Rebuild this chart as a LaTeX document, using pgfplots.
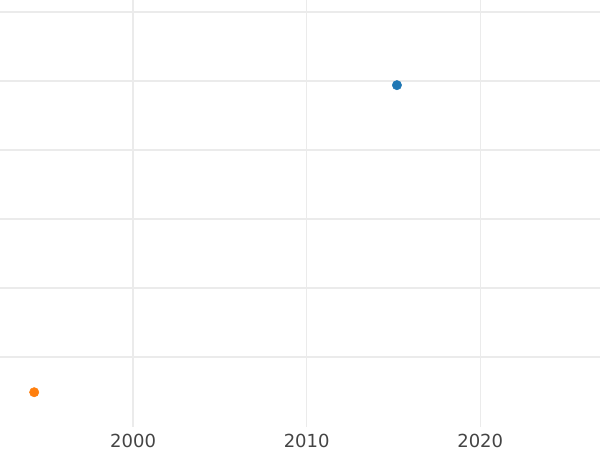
\documentclass[border=0pt]{standalone}
\usepackage{pgfplots}
\pgfplotsset{compat=1.18}
\usepackage{fontspec}
\setmainfont{DejaVu Sans}
\definecolor{gridgray}{HTML}{EBEBEB}
\definecolor{ticktext}{HTML}{444444}
\definecolor{ptblue}{HTML}{1F77B4}
\definecolor{ptorange}{HTML}{FF7F0E}
\begin{document}
\begin{tikzpicture}
\begin{axis}[
    scale only axis,
    width=450pt, height=320.25pt,
    xmin=1992.33, xmax=2026.9,
    ymin=-1.014, ymax=5.174,
    axis line style={draw=none},
    xtick={2000,2010,2020},
    ytick={0,1,2,3,4,5},
    yticklabels={},
    tick style={draw=none},
    xticklabel style={font=\fontsize{13.5}{15}\selectfont, text=ticktext, yshift=-1.5pt},
    /pgf/number format/assume math mode=true,
    /pgf/number format/1000 sep={},
    grid=major,
    major grid style={gridgray, line width=1pt},
    clip=false,
]
\addplot[only marks, mark=*, mark size=3.5pt, color=ptblue] coordinates {(2015.2,3.94)};
\addplot[only marks, mark=*, mark size=3.5pt, color=ptorange] coordinates {(1994.3,-0.51)};
\end{axis}
\pgfresetboundingbox
\path[use as bounding box] (0,-17.25pt) rectangle (450pt,320.25pt);
\end{tikzpicture}
\end{document}
